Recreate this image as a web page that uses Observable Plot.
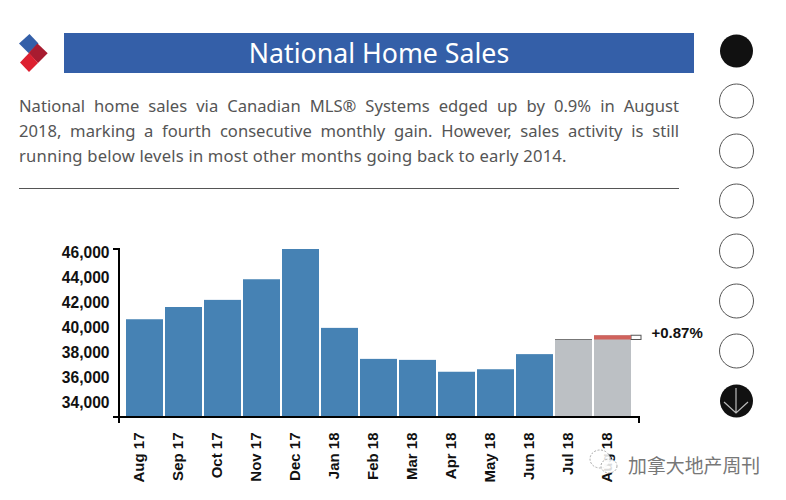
<!DOCTYPE html>
<html><head><meta charset="utf-8">
<script src="https://cdn.jsdelivr.net/npm/d3@7"></script>
<script src="https://cdn.jsdelivr.net/npm/@observablehq/plot@0.6"></script>
<style>
html,body{margin:0;padding:0;background:#fff;width:786px;height:500px;overflow:hidden}
#wrap{position:relative;width:786px;height:500px}
#chart{position:absolute;left:0;top:0}
#title{position:absolute;left:64px;top:33px;width:630px;height:40px;background:#345fa8;color:#fff;font:400 26.7px/39px "Noto Sans",sans-serif;text-align:center}
#para{position:absolute;left:19px;top:93px;width:660px;color:#555;font:400 16.6px/25px "Noto Sans",sans-serif}
#para div{text-align:justify;text-align-last:justify;white-space:nowrap}
#para div:last-child{text-align-last:left;letter-spacing:0.2px}
#rule{position:absolute;left:19px;top:188px;width:660px;height:1px;background:#555}
#deco{position:absolute;left:0;top:0;pointer-events:none}
#mark{position:absolute;left:628px;top:453px;color:#777;font:400 18.9px/24px "Noto Sans CJK SC",sans-serif;white-space:nowrap}
</style></head><body>
<div id="wrap">
<div id="chart"></div>
<div id="title">National Home Sales</div>
<div id="para"><div>National home sales via Canadian MLS® Systems edged up by 0.9% in August</div><div>2018, marking a fourth consecutive monthly gain. However, sales activity is still</div><div>running below levels in most other months going back to early 2014.</div></div>
<div id="rule"></div>
<svg id="deco" width="786" height="500">
<polygon points="29.5,34 38.5,43.5 28.5,53 19,43.5" fill="#345fa8"/>
<polygon points="37.5,43.5 47.7,53.3 38,63 28.5,53" fill="#a81c30"/>
<polygon points="29,53 38,63 29,72 20,62.5" fill="#dd2030"/>
<g id="dots"></g>
<g fill="none" stroke="#bbb" stroke-width="1.2"><path d="M736 388V412M724 402L736 413L748 402"/></g>
<g fill="#fff" fill-opacity="0.85" stroke="#aaa" stroke-width="1" stroke-dasharray="2 1.5"><ellipse cx="600" cy="459" rx="10" ry="9"/><ellipse cx="609" cy="466" rx="8" ry="7"/></g>
</svg>
<div id="mark">加拿大地产周刊</div>
</div>
<script>
const months = ["Aug 17","Sep 17","Oct 17","Nov 17","Dec 17","Jan 18","Feb 18","Mar 18","Apr 18","May 18","Jun 18","Jul 18","Aug 18"];
const sales = [40620,41600,42170,43820,46240,39930,37450,37370,36420,36620,37830,39000,39340];
const greyMonths = ["Jul 18","Aug 18"];
const yTicks = [34000,36000,38000,40000,42000,44000,46000];
const yDomain = [32800,46240];
const changeLabel = "+0.87%";

const rows = months.map((m,i)=>({month:m,value:sales[i]}));
const prev = sales[sales.length-2], last = sales[sales.length-1], lastMonth = months[months.length-1];
const font = 'Arial,"Liberation Sans",sans-serif';

const endTicks = (index,scales,values,dim)=>{
  const g = d3.create("svg:g").attr("fill","none").attr("stroke","#000").attr("stroke-width",2);
  const yb = dim.height-dim.marginBottom, yt = dim.marginTop, xl = dim.marginLeft, xr = dim.width-dim.marginRight;
  g.append("path").attr("d",`M${xl-6} ${yt}H${xl}V${yb}M${xl-6} ${yb}H${xr}V${yb+6}M${xl} ${yb}V${yb+6}`);
  return g.node();
};

const plot = Plot.plot({
  width:786,height:500,
  marginLeft:119,marginRight:147,marginTop:249,marginBottom:83,
  style:{fontFamily:font,background:"transparent",overflow:"visible"},
  x:{type:"band",domain:months,range:[126,635],padding:2/39,align:0,label:null},
  y:{domain:yDomain,label:null},
  marks:[
    Plot.barY(rows,{x:"month",y1:yDomain[0],y2:"value",fill:d=>greyMonths.includes(d.month)?"#bcc0c4":"#4682b4"}),
    Plot.barY([{month:"Jul 18",a:prev-40,b:prev+40}],{x:"month",y1:"a",y2:"b",fill:"#777"}),
    Plot.barY([{month:lastMonth,a:prev,b:last}],{x:"month",y1:"a",y2:"b",insetLeft:37,insetRight:-10,fill:"#fff",stroke:"#555",strokeWidth:1}),
    Plot.barY([{month:lastMonth,a:prev,b:last}],{x:"month",y1:"a",y2:"b",fill:"#d0625c"}),
    Plot.text([{month:lastMonth,v:last}],{x:"month",y:"v",text:()=>changeLabel,textAnchor:"start",dx:38.5,dy:-3,fontSize:15,fontWeight:"bold",fill:"#111"}),
    endTicks,
    Plot.axisY({ticks:yTicks,tickSize:0,tickPadding:10,tickFormat:d3.format(","),fontSize:15.6,fontWeight:"bold",fill:"#111",label:null}),
    Plot.axisX({tickSize:0,tickRotate:-90,tickPadding:15,fontSize:15,fontWeight:"bold",fill:"#111",dx:-6,label:null})
  ]
});
document.getElementById("chart").appendChild(plot);

const dotY = [51,101,151,201,251,301,351,401];
const dots = d3.select("#dots");
dotY.forEach((cy,i)=>{
  const solid = i===0||i===dotY.length-1;
  dots.append("circle").attr("cx",736.5).attr("cy",cy).attr("r",solid?16.5:17)
    .attr("fill",solid?"#111":"#fff").attr("stroke",solid?"none":"#555").attr("stroke-width",1);
});
</script>
</body></html>
